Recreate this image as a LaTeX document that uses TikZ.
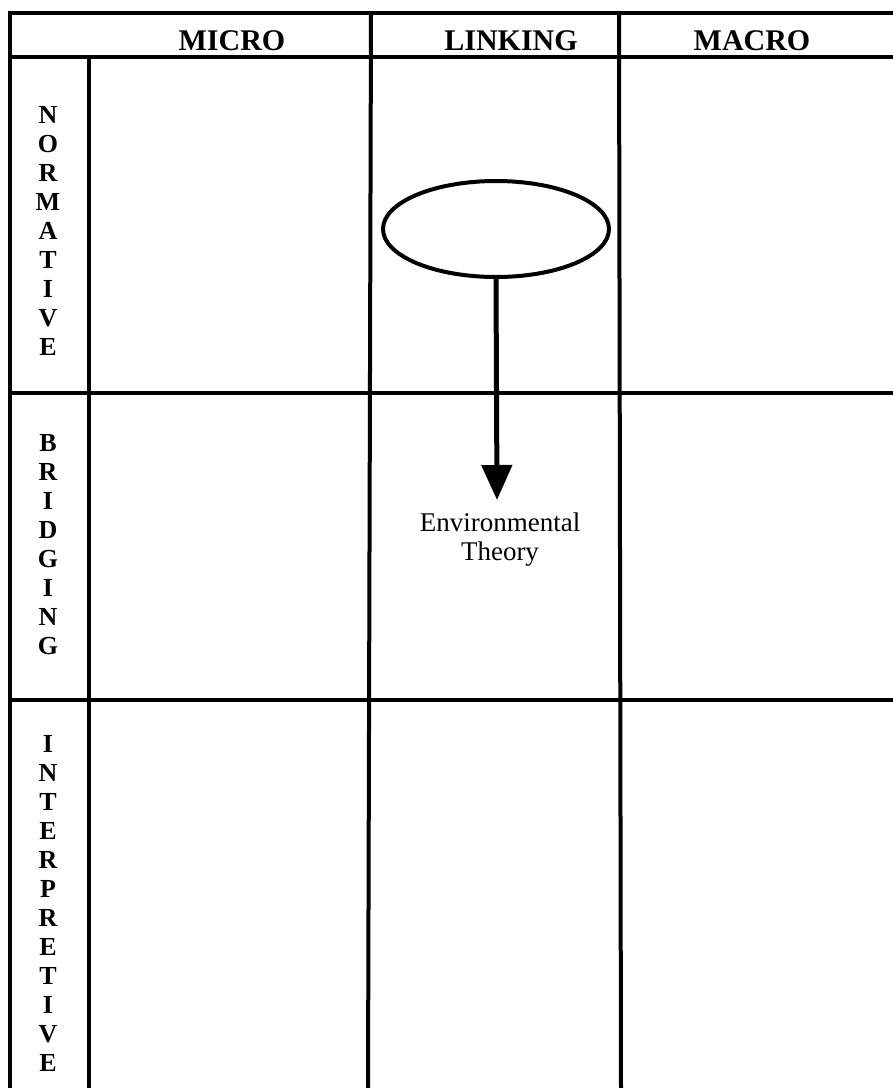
\documentclass[tikz,border=0pt]{standalone}
\usepackage{fontspec}
\setmainfont{Liberation Serif}
\usetikzlibrary{arrows.meta,shapes.geometric}
\tikzset{
  grid/.style={line width=4pt, line cap=rect},
  head/.style={font=\bfseries\fontsize{30pt}{32pt}\selectfont, inner sep=0pt, anchor=base},
  rowlab/.style={font=\bfseries\fontsize{26pt}{29pt}\selectfont, align=center, inner sep=0pt},
  oval/.style={draw, ellipse, line width=4pt, minimum width=226pt, minimum height=96pt, inner sep=0pt},
  conn/.style={line width=5pt, -{Triangle[width=30pt,length=35pt]}},
  lab/.style={font=\fontsize{27pt}{29pt}\selectfont, align=center, inner sep=0pt, anchor=north}
}
\begin{document}
\begin{tikzpicture}[x=1pt,y=-1pt]
\useasboundingbox (0,0) rectangle (893,1088);
% grid
\draw[grid] (10,1088) -- (10,13) -- (893,13);
\draw[grid] (10,57) -- (893,57);
\draw[grid] (10,393) -- (893,393);
\draw[grid] (10,700) -- (893,700);
\draw[grid] (89,57) -- (89,1088);
\draw[grid] (371,13) -- (368,1088);
\draw[grid] (619,13) -- (621,1088);
% headers
\node[head] (micro) at (232,50) {MICRO};
\node[head] (linking) at (511,50) {LINKING};
\node[head] (macro) at (752,50) {MACRO};
% row labels
\node[rowlab] (norm) at (48,231) {N\\O\\R\\M\\A\\T\\I\\V\\E};
\node[rowlab] (bridg) at (48,545) {B\\R\\I\\D\\G\\I\\N\\G};
\node[rowlab] (interp) at (48,903) {I\\N\\T\\E\\R\\P\\R\\E\\T\\I\\V\\E};
% ellipse and arrow
\node[oval] (ell) at (496,229) {};
\coordinate (tip) at (497,500);
\draw[conn] (ell.south) -- (tip);
\node[lab] (env) at (500,513) {Environmental\\Theory};
\end{tikzpicture}
\end{document}
